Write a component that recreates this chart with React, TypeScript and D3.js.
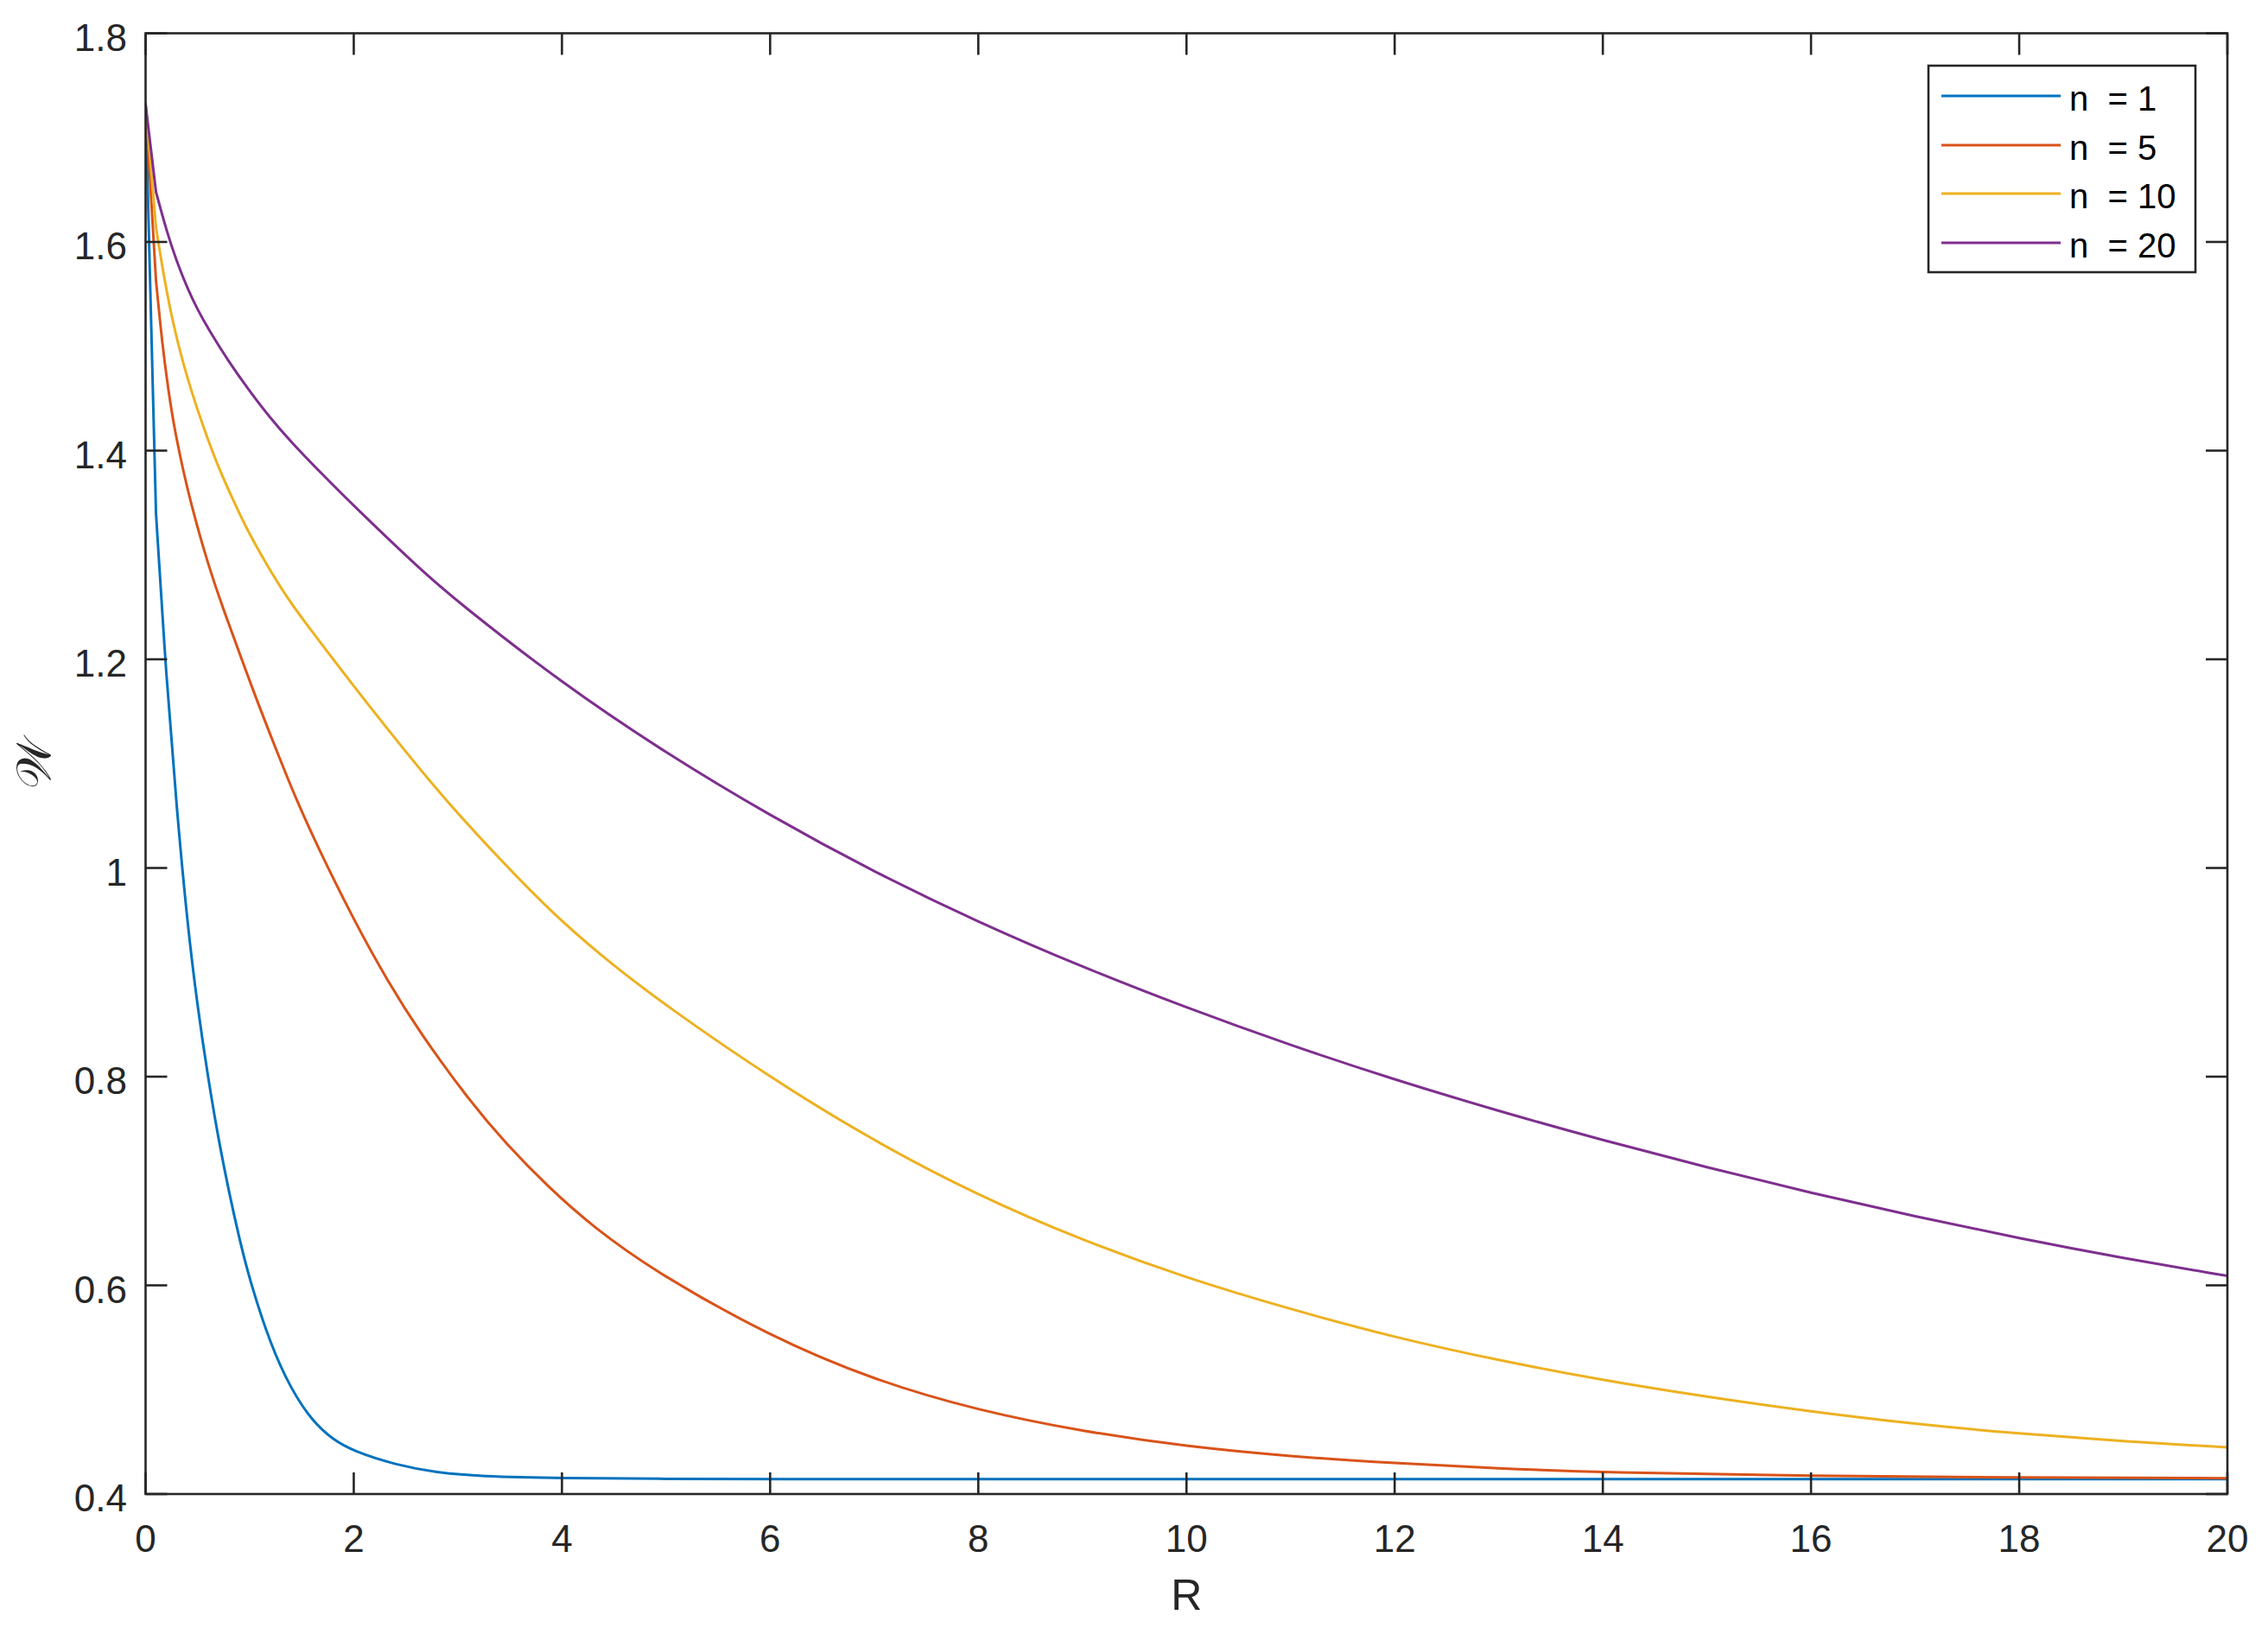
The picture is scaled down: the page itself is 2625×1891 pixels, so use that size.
import React from "react";
import * as d3 from "d3";

const rN1 = [0, 0.1, 0.2, 0.3, 0.4, 0.5, 0.6, 0.7, 0.8, 0.9, 1.0, 1.2, 1.4, 1.6, 1.8, 2.0, 2.4, 2.8, 3.2, 4, 5, 6, 8, 10, 14, 20];
const wN1 = [1.732, 1.34, 1.18, 1.056, 0.948, 0.866, 0.799, 0.740, 0.690, 0.645, 0.605, 0.543, 0.500, 0.470, 0.452, 0.441, 0.428, 0.4205, 0.417, 0.4152, 0.4145, 0.4143, 0.4142, 0.4142, 0.4142, 0.4142];

const rN5 = [0, 0.1, 0.16, 0.22, 0.27, 0.36, 0.44, 0.55, 0.66, 0.78, 1.04, 1.26, 1.45, 1.65, 2.0, 2.34, 2.63, 3.11, 3.46, 3.87, 4.31, 4.91, 6, 7, 8, 9, 10, 11, 12, 13, 14, 16, 18, 20];
const wN5 = [1.732, 1.563, 1.502, 1.457, 1.425, 1.381, 1.348, 1.308, 1.273, 1.239, 1.168, 1.112, 1.065, 1.021, 0.950, 0.889, 0.843, 0.777, 0.736, 0.694, 0.655, 0.612, 0.551, 0.509, 0.480, 0.460, 0.4455, 0.436, 0.4295, 0.4245, 0.4205, 0.4172, 0.4157, 0.4152];

const rN10 = [0, 0.1, 0.18, 0.27, 0.36, 0.44, 0.55, 0.69, 0.83, 0.96, 1.16, 1.38, 1.52, 2.0, 2.47, 2.88, 3.5, 4.0, 4.5, 5.0, 6, 7, 8, 9, 10, 11, 12, 13, 14, 15, 16, 17, 18, 19, 20];
const wN10 = [1.732, 1.614, 1.564, 1.519, 1.484, 1.457, 1.424, 1.386, 1.355, 1.327, 1.291, 1.256, 1.237, 1.174, 1.115, 1.065, 0.998, 0.948, 0.906, 0.868, 0.799, 0.738, 0.686, 0.643, 0.607, 0.577, 0.550, 0.528, 0.509, 0.493, 0.479, 0.467, 0.4578, 0.4505, 0.4447];

const rN20 = [0, 0.1, 0.2, 0.3, 0.4, 0.5, 0.6, 0.8, 1.0, 1.2, 1.4, 1.7, 2.0, 2.65, 3, 4, 5, 6, 7, 8, 9, 10, 11, 12, 13, 14, 15, 16, 17, 18, 19, 20];
const wN20 = [1.732, 1.648, 1.611, 1.581, 1.556, 1.535, 1.517, 1.485, 1.457, 1.431, 1.408, 1.377, 1.347, 1.285, 1.255, 1.177, 1.110, 1.050, 0.996, 0.948, 0.905, 0.866, 0.830, 0.797, 0.767, 0.739, 0.713, 0.6885, 0.666, 0.645, 0.626, 0.609];

const seriesLabels = ["n  = 1", "n  = 5", "n  = 10", "n  = 20"];
const seriesColors = ["#0072BD", "#D95319", "#EDB120", "#7E2F8E"];
const seriesR = [rN1, rN5, rN10, rN20];
const seriesW = [wN1, wN5, wN10, wN20];

const xTicks = [0, 2, 4, 6, 8, 10, 12, 14, 16, 18, 20];
const yTicks = [0.4, 0.6, 0.8, 1.0, 1.2, 1.4, 1.6, 1.8];
const xLabel = "R";
const yLabel = "𝒲";

export default function App() {
  const W = 2625, H = 1891;
  const left = 168.5, right = 2578, top = 38.5, bottom = 1729;
  const x = d3.scaleLinear().domain([0, 20]).range([left, right]);
  const y = d3.scaleLinear().domain([0.4, 1.8]).range([bottom, top]);
  const lineLin = d3.line<[number, number]>().x(d => x(d[0])).y(d => y(d[1]));
  const lineSmooth = d3.line<[number, number]>().x(d => x(d[0])).y(d => y(d[1])).curve(d3.curveBasis);
  const axisColor = "#262626";
  const tl = 25;
  const font = "'Liberation Sans', Arial, Helvetica, sans-serif";
  const fmt = (v: number) => (Math.abs(v - Math.round(v)) < 1e-9 ? String(Math.round(v)) : v.toFixed(1));

  const legX = 2232, legY = 76, legW = 309, legH = 239;
  const rowY = [111, 168, 224, 281];

  return (
    <svg width={W} height={H} style={{ position: "absolute", left: 0, top: 0, background: "#fff" }} fontFamily={font}>
      <rect x={0} y={0} width={W} height={H} fill="#fff" />
      <defs>
        <clipPath id="plotclip">
          <rect x={left} y={top} width={right - left} height={bottom - top} />
        </clipPath>
      </defs>
      <g clipPath="url(#plotclip)">
        {seriesR.map((rs, i) => {
          const pts = rs.map((r, j) => [r, seriesW[i][j]] as [number, number]);
          return (
            <g key={i} fill="none" stroke={seriesColors[i]} strokeWidth={3} strokeLinejoin="round" strokeLinecap="round">
              <path d={lineLin(pts.slice(0, 2)) || ""} />
              <path d={lineSmooth(pts.slice(1)) || ""} />
            </g>
          );
        })}
      </g>
      <rect x={left} y={top} width={right - left} height={bottom - top} fill="none" stroke={axisColor} strokeWidth={2.6} />
      {xTicks.map(t => (
        <g key={"x" + t}>
          <line x1={x(t)} x2={x(t)} y1={bottom} y2={bottom - tl} stroke={axisColor} strokeWidth={2.6} />
          <line x1={x(t)} x2={x(t)} y1={top} y2={top + tl} stroke={axisColor} strokeWidth={2.6} />
          <text x={x(t)} y={1796} textAnchor="middle" fontSize={44} fill={axisColor}>{fmt(t)}</text>
        </g>
      ))}
      {yTicks.map(t => (
        <g key={"y" + t}>
          <line x1={left} x2={left + tl} y1={y(t)} y2={y(t)} stroke={axisColor} strokeWidth={2.6} />
          <line x1={right} x2={right - tl} y1={y(t)} y2={y(t)} stroke={axisColor} strokeWidth={2.6} />
          <text x={147} y={y(t) + 20} textAnchor="end" fontSize={44} fill={axisColor}>{fmt(t)}</text>
        </g>
      ))}
      <text x={(left + right) / 2} y={1863} textAnchor="middle" fontSize={50} fill={axisColor}>{xLabel}</text>
      <text transform={`translate(58, ${(top + bottom) / 2}) rotate(-90)`} textAnchor="middle" fontSize={56} fill={axisColor} fontFamily="'DejaVu Serif', 'DejaVu Sans', serif">{yLabel}</text>
      <rect x={legX} y={legY} width={legW} height={legH} fill="#fff" stroke={axisColor} strokeWidth={2.6} />
      {seriesLabels.map((lab, i) => (
        <g key={lab}>
          <line x1={2247} x2={2385} y1={rowY[i]} y2={rowY[i]} stroke={seriesColors[i]} strokeWidth={3} />
          <text x={2395} y={rowY[i] + 17} fontSize={40} fill="#000" style={{ whiteSpace: "pre" }} xmlSpace="preserve">{lab}</text>
        </g>
      ))}
    </svg>
  );
}
